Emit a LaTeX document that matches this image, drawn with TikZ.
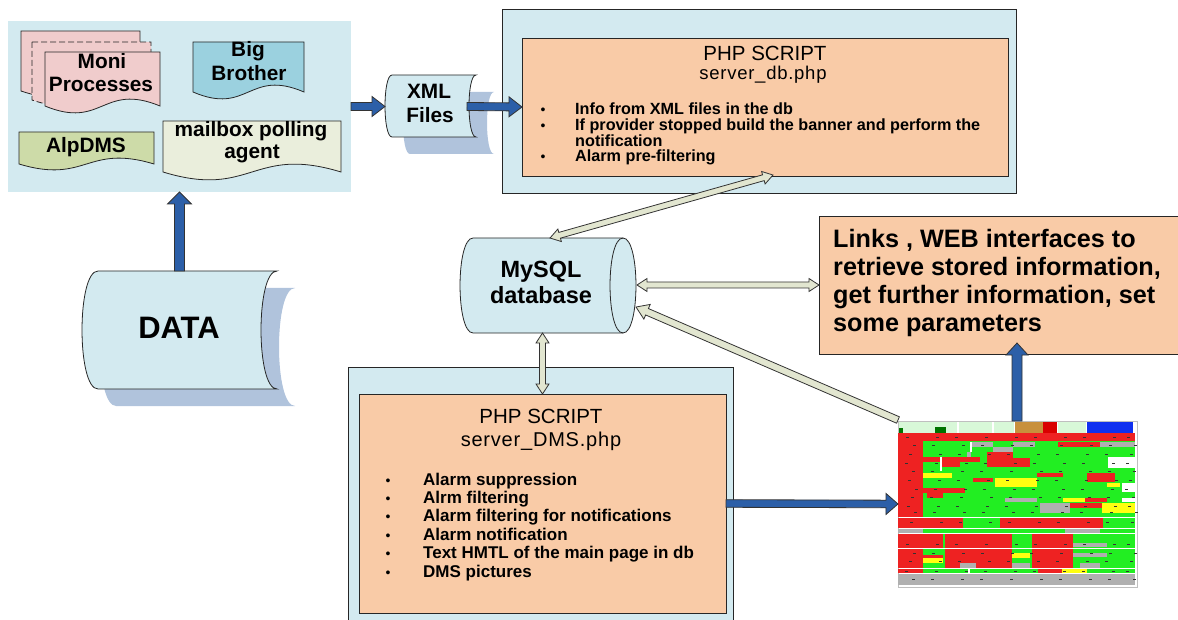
\documentclass[tikz,border=0pt]{standalone}
\usepackage{fontspec}
\setmainfont{Liberation Sans}
\usetikzlibrary{calc}

\definecolor{panel}{HTML}{D3EAF0}
\definecolor{peach}{HTML}{F9CBA7}
\definecolor{flowblue}{HTML}{2C5FA8}
\definecolor{pipe}{HTML}{E2E6D0}
\definecolor{shade}{HTML}{B0C3DC}
\definecolor{moni}{HTML}{F0CCCC}
\definecolor{bigbro}{HTML}{9BD1DF}
\definecolor{alp}{HTML}{CDDBA8}
\definecolor{mailbox}{HTML}{EAEEDC}
\definecolor{sred}{HTML}{EE2222}
\definecolor{sgreen}{HTML}{22EE22}
\definecolor{syel}{HTML}{FFFF10}
\definecolor{sgrey}{HTML}{B0B0B0}
\definecolor{sbrown}{HTML}{C8903C}
\definecolor{sblue}{HTML}{1030F0}
\definecolor{slight}{HTML}{D8F8D8}

% document shape with a wavy bottom: style, x1, top, x2, bottom, wave amplitude
\newcommand\docshape[6]{%
  \path[#1] (#2,#3) -- (#4,#3) -- (#4,#5)
    .. controls ({(#2+#4)/2},{#5-3.4*#6}) and ({(#2+#4)/2},{#5+3.4*#6}) .. (#2,#5) -- cycle;}

% stored-data shape: style, left x, right x, top, bottom, bulge
\newcommand\storedshape[6]{%
  \path[#1] (#2,#4) -- (#3,#4)
    .. controls ({#3-1.333*#6},#4) and ({#3-1.333*#6},#5) .. (#3,#5) -- (#2,#5)
    .. controls ({#2-1.333*#6},#5) and ({#2-1.333*#6},#4) .. (#2,#4) -- cycle;}

% geometry between two named points
\newcommand\arrowgeom[2]{%
  \path (#1); \pgfgetlastxy{\arAx}{\arAy}%
  \path (#2); \pgfgetlastxy{\arBx}{\arBy}%
  \pgfmathsetmacro\arAng{atan2(\arBy-\arAy,\arBx-\arAx)}%
  \pgfmathsetmacro\arLen{veclen(\arBx-\arAx,\arBy-\arAy)}}

% block arrow with one head: style, from, to, shaft half width, head half width, head length
\newcommand\mkSingleArrow[6]{%
  \arrowgeom{#2}{#3}%
  \pgfmathsetmacro\arNeck{\arLen-#6}%
  \path[#1, shift={(\arAx,\arAy)}, rotate=\arAng]
    (0pt,-#4pt) -- (\arNeck pt,-#4pt) -- (\arNeck pt,-#5pt) -- (\arLen pt,0pt)
    -- (\arNeck pt,#5pt) -- (\arNeck pt,#4pt) -- (0pt,#4pt) -- cycle;}

% block arrow with two heads
\newcommand\mkDoubleArrow[6]{%
  \arrowgeom{#2}{#3}%
  \pgfmathsetmacro\arNeck{\arLen-#6}%
  \path[#1, shift={(\arAx,\arAy)}, rotate=\arAng]
    (0pt,0pt) -- (#6pt,#5pt) -- (#6pt,#4pt) -- (\arNeck pt,#4pt) -- (\arNeck pt,#5pt)
    -- (\arLen pt,0pt) -- (\arNeck pt,-#5pt) -- (\arNeck pt,-#4pt) -- (#6pt,-#4pt)
    -- (#6pt,-#5pt) -- cycle;}

\tikzset{
  outline/.style={draw=black!85, line width=0.9pt},
  docline/.style={draw=black!85, line width=0.8pt},
  box/.style={anchor=north west, inner sep=0pt, outer sep=0pt},
  lbl/.style={inner sep=0pt, anchor=base, font=\fontsize{20.8}{24}\selectfont\bfseries},
  title/.style={inner sep=0pt, anchor=base, font=\fontsize{20.5}{24}\selectfont},
  subtitle/.style={inner sep=0pt, anchor=base, font=\fontsize{18.5}{22}\selectfont\addfontfeature{LetterSpace=4}},
  bulA/.style={inner sep=0pt, anchor=base west, font=\fontsize{16.2}{16}\selectfont\bfseries},
  bulB/.style={inner sep=0pt, anchor=base west, font=\fontsize{17}{18}\selectfont\bfseries},
  dotA/.style={inner sep=0pt, anchor=base, font=\fontsize{14}{16}\selectfont},
  linkline/.style={inner sep=0pt, anchor=base west, font=\fontsize{25.2}{28}\selectfont\bfseries},
  bluearrow/.style={fill=flowblue, draw=black!80, line width=0.8pt},
  pipearrow/.style={fill=pipe, draw=black!80, line width=0.8pt},
  shadow/.style={fill=shade, draw=none},
}

\begin{document}
\begin{tikzpicture}[x=1pt, y=-1pt, line join=miter]
\useasboundingbox (0,0) rectangle (1178,620);
\clip (0,0) rectangle (1178,620);

% ---------- data sources panel ----------
\node[box, fill=panel, minimum width=343pt, minimum height=171pt] (panel) at (8,21) {};

\docshape{fill=moni, docline}{21}{31}{140}{91}{6}
\docshape{fill=moni, docline, dashed, dash pattern=on 6pt off 3pt}{32}{42}{151}{100}{6}
\docshape{fill=moni, docline}{45}{52}{160}{106}{7}
\node[lbl] (moni) at (102,69) {Moni};
\node[lbl] (moniB) at (101,92) {Processes};

\docshape{fill=bigbro, docline}{193}{42}{304}{92}{7}
\node[lbl] (bb) at (248,57) {Big};
\node[lbl] (bbB) at (249,81) {Brother};

\docshape{fill=alp, docline}{19}{132}{154}{164}{6}
\node[lbl] (alp) at (86,153) {AlpDMS};

\docshape{fill=mailbox, docline}{163}{121}{341}{172}{8}
\node[lbl] (mail) at (251,137) {mailbox polling};
\node[lbl] (mailB) at (252,159) {agent};

% ---------- DATA store ----------
\storedshape{shadow}{116}{295}{288}{406}{16}
\storedshape{fill=panel, docline}{98}{277}{271}{389}{16}
\node[inner sep=0pt, anchor=base, font=\fontsize{31}{34}\selectfont\bfseries] (data) at (179,338) {DATA};
\coordinate (dataTop) at (179.5,271);

% ---------- XML files ----------
\storedshape{shadow}{410}{494}{92}{154}{7}
\storedshape{fill=panel, docline}{392}{476}{75}{137}{7}
\node[lbl] (xml) at (429,99) {XML};
\node[lbl] (xmlB) at (430,123) {Files};
\coordinate (xmlW) at (385,106.5);
\coordinate (xmlE) at (467,106.5);

% ---------- PHP script server_db.php ----------
\node[box, fill=panel, outline, minimum width=514pt, minimum height=184pt] (topOuter) at (502,9) {};
\node[box, fill=peach, outline, minimum width=486pt, minimum height=138pt] (topInner) at (522,38) {};
\node[title] (topTitle) at (765,60.5) {PHP SCRIPT};
\node[subtitle] (topFile) at (763,80) {server\_db.php};
\node[dotA] (ta) at (543,115) {•};
\node[dotA] (tb) at (543,131) {•};
\node[dotA] (tc) at (543,162) {•};
\node[bulA] (taT) at (575,115) {Info from XML files in the db};
\node[bulA] (tbT) at (575,131) {If provider stopped build the banner and perform the};
\node[bulA] (tbU) at (575,147) {notification};
\node[bulA] (tcT) at (575,162) {Alarm pre-filtering};

% ---------- PHP script server_DMS.php ----------
\node[box, fill=panel, outline, minimum width=385pt, minimum height=280pt] (botOuter) at (348,367) {};
\node[box, fill=peach, outline, minimum width=367pt, minimum height=219pt] (botInner) at (359,394) {};
\node[title] (botTitle) at (541,423) {PHP SCRIPT};
\node[subtitle, font=\fontsize{20}{24}\selectfont\addfontfeature{LetterSpace=4}] (botFile) at (541,446) {server\_DMS.php};
\foreach \yy/\txt [count=\i] in {485/Alarm suppression, 503.4/Alrm filtering,
    521.8/Alarm filtering for notifications, 540.2/Alarm notification,
    558.6/Text HMTL of the main page in db, 577/DMS pictures}{
  \node[dotA] (bd\i) at (388,\yy) {•};
  \node[bulB] (bt\i) at (423,\yy) {\txt};
}

% ---------- web interfaces ----------
\node[box, fill=peach, outline, minimum width=371pt, minimum height=138pt] (links) at (819,216) {};
\node[linkline] (l1) at (833,248) {Links , WEB interfaces to};
\node[linkline] (l2) at (833,276) {retrieve stored information,};
\node[linkline] (l3) at (833,303.5) {get further information, set};
\node[linkline] (l4) at (833,331) {some parameters};

% ---------- MySQL database ----------
\path[fill=panel, docline] (473,238) -- (623,238)
  .. controls (640.3,238) and (640.3,333) .. (623,333) -- (473,333)
  .. controls (455.7,333) and (455.7,238) .. (473,238) -- cycle;
\path[docline] (623,238) .. controls (605.7,238) and (605.7,333) .. (623,333);
\node[inner sep=0pt, anchor=base, font=\fontsize{23.5}{27}\selectfont\bfseries] (db) at (541,278) {MySQL};
\node[inner sep=0pt, anchor=base, font=\fontsize{23.5}{27}\selectfont\bfseries] (dbB) at (541,304) {database};
\coordinate (dbTop) at (550,238);
\coordinate (dbRight) at (637,285);
\coordinate (dbBottom) at (542.5,333);
\coordinate (dbIn) at (636,307);

% ---------- status page snapshot ----------
\node[box, fill=white, draw=black!25, line width=0.6pt, minimum width=239pt, minimum height=166pt] (shot) at (898,421) {};
\begin{scope}
  % header strip
  \fill[slight] (899,422) rectangle (957,433);
  \fill[green!45!black] (935,427) rectangle (946,433);
  \fill[green!45!black] (899,428) rectangle (903,433);
  \fill[slight] (959,422) rectangle (992,433);
  \fill[slight] (994,422) rectangle (1014,433);
  \fill[sbrown] (1015,422) rectangle (1043,433);
  \fill[red!85!black] (1043,422) rectangle (1057,433);
  \fill[slight] (1058,422) rectangle (1086,433);
  \fill[sblue] (1087,422) rectangle (1133,433);
  % main grid
  \fill[sgreen] (898,433) rectangle (1135,517);
  \fill[sred] (898,433) rectangle (923,517);
  \fill[sred] (923,433) rectangle (1135,441);
  \fill[sgrey] (972,442) rectangle (993,447);
  \fill[sgrey] (1013,442) rectangle (1035,447);
  \fill[sred] (1058,442) rectangle (1100,447);
  \fill[sgrey] (1100,442) rectangle (1135,447);
  \fill[sgrey] (993,447) rectangle (1013,452);
  \fill[sgrey] (967,452) rectangle (971,457);
  \fill[sred] (987,452) rectangle (1013,458);
  \fill[sred] (923,457) rectangle (980,462);
  \fill[sred] (987,458) rectangle (1030,467);
  \fill[sred] (942,462) rectangle (960,467);
  \fill[white] (1108,457) rectangle (1135,468);
  \fill[syel] (923,473) rectangle (952,478);
  \fill[sred] (1037,473) rectangle (1063,477);
  \fill[sred] (1087,473) rectangle (1115,482);
  \fill[sred] (973,478) rectangle (993,482);
  \fill[syel] (995,478) rectangle (1037,487);
  \fill[syel] (1107,483) rectangle (1120,487);
  \fill[white] (1122,483) rectangle (1135,492);
  \fill[sred] (923,488) rectangle (965,493);
  \fill[sred] (927,493) rectangle (943,498);
  \fill[sgrey] (1005,498) rectangle (1037,502);
  \fill[syel] (1063,498) rectangle (1085,502);
  \fill[sred] (1085,498) rectangle (1107,502);
  \fill[white] (1122,498) rectangle (1135,502);
  \fill[sgrey] (1040,503) rectangle (1070,513);
  \fill[sred] (1070,503) rectangle (1102,508);
  \fill[syel] (1102,503) rectangle (1135,513);
  \fill[white] (970,442) rectangle (971.5,452);
  \fill[white] (940,457) rectangle (941.5,471);
  % second band
  \fill[sred] (898,518) rectangle (963,528);
  \fill[sgreen] (963,518) rectangle (1000,528);
  \fill[sred] (1000,518) rectangle (1103,528);
  \fill[sgreen] (1103,518) rectangle (1135,528);
  \fill[sgreen] (898,528.5) rectangle (1135,533);
  \fill[sgrey] (898,528.5) rectangle (923,533);
  \fill[sgrey] (1065,528.5) rectangle (1100,533);
  % third band
  \fill[sgreen] (898,534) rectangle (1135,568);
  \fill[sred] (898,534) rectangle (943,548);
  \fill[sred] (898,548) rectangle (923,568);
  \fill[sred] (923,555) rectangle (943,558);
  \fill[syel] (923,558) rectangle (943,563);
  \fill[sred] (945,534) rectangle (1012,568);
  \fill[syel] (1012,553) rectangle (1030,558);
  \fill[sred] (1032,534) rectangle (1073,568);
  \fill[sgrey] (1073,543) rectangle (1107,547);
  \fill[sgrey] (1073,553) rectangle (1107,557);
  \fill[white] (898,548) rectangle (1135,549);
  \fill[sgrey] (960,563) rectangle (976,568);
  \fill[sgrey] (1012,563) rectangle (1030,568);
  \fill[sgrey] (1080,563) rectangle (1100,568);
  % bottom rows
  \fill[sred] (898,569) rectangle (923,573);
  \fill[sgreen] (923,569) rectangle (968,573);
  \fill[sgreen] (970,569) rectangle (1038,573);
  \fill[sred] (1038,569) rectangle (1062,573);
  \fill[syel] (1062,569) rectangle (1087,573);
  \fill[sgreen] (1087,569) rectangle (1135,573);
  \fill[sgrey] (898,574) rectangle (1135,585);
  % small text marks
  \foreach \yy [count=\i] in {437,445,454,463,471,480,489,497,506,512,522,544,553,561,571,579}
    \foreach \xx [count=\j] in {905,930,955,980,1005,1030,1055,1080,1105,1125}
      \fill[black!80] ({\xx+mod(\i*7+\j*5,11)},\yy) rectangle +(3,1.4);
\end{scope}

% ---------- connectors ----------
\coordinate (topIn) at (773,175);
\coordinate (linksIn) at ([yshift=11pt]links.south -| 1017,0);
\coordinate (shotTop) at (shot.north -| linksIn);
\coordinate (shotCorner) at (898,420);

\mkSingleArrow{bluearrow}{dataTop}{panel.south}{5}{12}{12}
\mkSingleArrow{bluearrow}{panel.east}{xmlW}{4}{10}{13}
\mkSingleArrow{bluearrow}{xmlE}{topInner.west}{4}{10}{13}
\mkSingleArrow{bluearrow}{botInner.east}{shot.west}{3.8}{10.5}{12}
\mkSingleArrow{bluearrow}{shotTop}{linksIn}{5}{11}{12}

\mkDoubleArrow{pipearrow}{dbTop}{topIn}{3}{6.5}{10}
\mkDoubleArrow{pipearrow}{dbRight}{links.west}{3}{6.5}{10}
\mkDoubleArrow{pipearrow}{dbBottom}{botInner.north}{3}{6.5}{10}
\mkSingleArrow{pipearrow}{shotCorner}{dbIn}{3.5}{8}{12}
\end{tikzpicture}
\end{document}
